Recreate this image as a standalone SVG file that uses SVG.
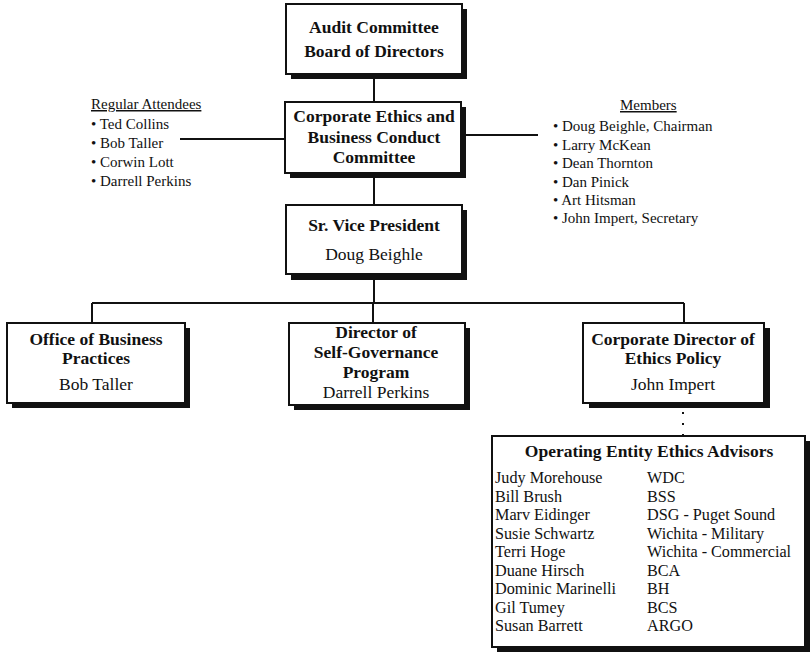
<svg xmlns="http://www.w3.org/2000/svg" width="811" height="655" viewBox="0 0 811 655">
<style>
.box{fill:#fff;stroke:#111;stroke-width:2}
.sh{fill:#111}
.b{font-family:"Liberation Serif","Times New Roman",serif;font-weight:bold;font-size:17.5px;fill:#111;text-anchor:middle}
.r{font-family:"Liberation Serif","Times New Roman",serif;font-size:17.5px;fill:#111;text-anchor:middle}
.l{font-family:"Liberation Serif","Times New Roman",serif;font-size:15px;fill:#111}
.t{font-family:"Liberation Serif","Times New Roman",serif;font-size:16.2px;fill:#111}
.c{fill:none;stroke:#111;stroke-width:2}
</style>
<rect width="811" height="655" fill="#fff"/>
<g id="connectors">
<path class="c" d="M374 79V102M374 178V205M180 139H285M466 135H538M374 280V303M92 303H684M92 303V323M373 303V323M684 303V323"/>
<path d="M683 412V436" fill="none" stroke="#111" stroke-width="2" stroke-dasharray="2 9"/>
</g>
<g id="audit">
<rect class="sh" x="291" y="9" width="176" height="70"/>
<rect class="box" x="286" y="4" width="176" height="70"/>
<text class="b" x="374" y="33">Audit Committee</text>
<text class="b" x="374" y="57">Board of Directors</text>
</g>
<g id="ethics">
<rect class="sh" x="290" y="107" width="176" height="71"/>
<rect class="box" x="285" y="102" width="176" height="71"/>
<text class="b" x="374" y="122">Corporate Ethics and</text>
<text class="b" x="374" y="143">Business Conduct</text>
<text class="b" x="374" y="163">Committee</text>
</g>
<g id="attendees">
<text class="l" x="91" y="109" font-size="16" text-decoration="underline">Regular Attendees</text>
<text class="l" x="91" y="129">•  Ted Collins</text>
<text class="l" x="91" y="148">•  Bob Taller</text>
<text class="l" x="91" y="167">•  Corwin Lott</text>
<text class="l" x="91" y="186">•  Darrell Perkins</text>
</g>
<g id="members">
<text class="l" x="620" y="110" text-decoration="underline"> Members</text>
<text class="l" x="553" y="131">•  Doug Beighle, Chairman</text>
<text class="l" x="553" y="150">•  Larry McKean</text>
<text class="l" x="553" y="168">•  Dean Thornton</text>
<text class="l" x="553" y="187">•  Dan Pinick</text>
<text class="l" x="553" y="205">•  Art Hitsman</text>
<text class="l" x="553" y="223">•  John Impert, Secretary</text>
</g>
<g id="srvp">
<rect class="sh" x="291" y="210" width="176" height="70"/>
<rect class="box" x="286" y="205" width="176" height="69"/>
<text class="b" x="374" y="231">Sr. Vice President</text>
<text class="r" x="374" y="260">Doug Beighle</text>
</g>
<g id="office">
<rect class="sh" x="12" y="328" width="178" height="80"/>
<rect class="box" x="7" y="323" width="178" height="80"/>
<text class="b" x="96" y="345">Office of Business</text>
<text class="b" x="96" y="364">Practices</text>
<text class="r" x="96" y="390">Bob Taller</text>
</g>
<g id="director">
<rect class="sh" x="294" y="328" width="176" height="82"/>
<rect class="box" x="289" y="323" width="176" height="82"/>
<text class="b" x="376" y="338">Director of</text>
<text class="b" x="376" y="358">Self-Governance</text>
<text class="b" x="376" y="378">Program</text>
<text class="r" x="376" y="398">Darrell Perkins</text>
</g>
<g id="corpdir">
<rect class="sh" x="589" y="328" width="181" height="80"/>
<rect class="box" x="583" y="323" width="181" height="80"/>
<text class="b" x="673" y="345">Corporate Director of</text>
<text class="b" x="673" y="364">Ethics Policy</text>
<text class="r" x="673" y="390">John Impert</text>
</g>
<g id="advisors">
<rect class="sh" x="497" y="441" width="313" height="211"/>
<rect class="box" x="492" y="436" width="313" height="211"/>
<text class="b" x="649" y="457">Operating Entity Ethics Advisors</text>
<text class="t" x="495" y="483">Judy Morehouse</text><text class="t" x="647" y="483">WDC</text>
<text class="t" x="495" y="501.5">Bill Brush</text><text class="t" x="647" y="501.5">BSS</text>
<text class="t" x="495" y="520">Marv Eidinger</text><text class="t" x="647" y="520">DSG - Puget Sound</text>
<text class="t" x="495" y="538.5">Susie Schwartz</text><text class="t" x="647" y="538.5">Wichita - Military</text>
<text class="t" x="495" y="557">Terri Hoge</text><text class="t" x="647" y="557">Wichita - Commercial</text>
<text class="t" x="495" y="575.5">Duane Hirsch</text><text class="t" x="647" y="575.5">BCA</text>
<text class="t" x="495" y="594">Dominic Marinelli</text><text class="t" x="647" y="594">BH</text>
<text class="t" x="495" y="612.5">Gil Tumey</text><text class="t" x="647" y="612.5">BCS</text>
<text class="t" x="495" y="631">Susan Barrett</text><text class="t" x="647" y="631">ARGO</text>
</g>
</svg>
